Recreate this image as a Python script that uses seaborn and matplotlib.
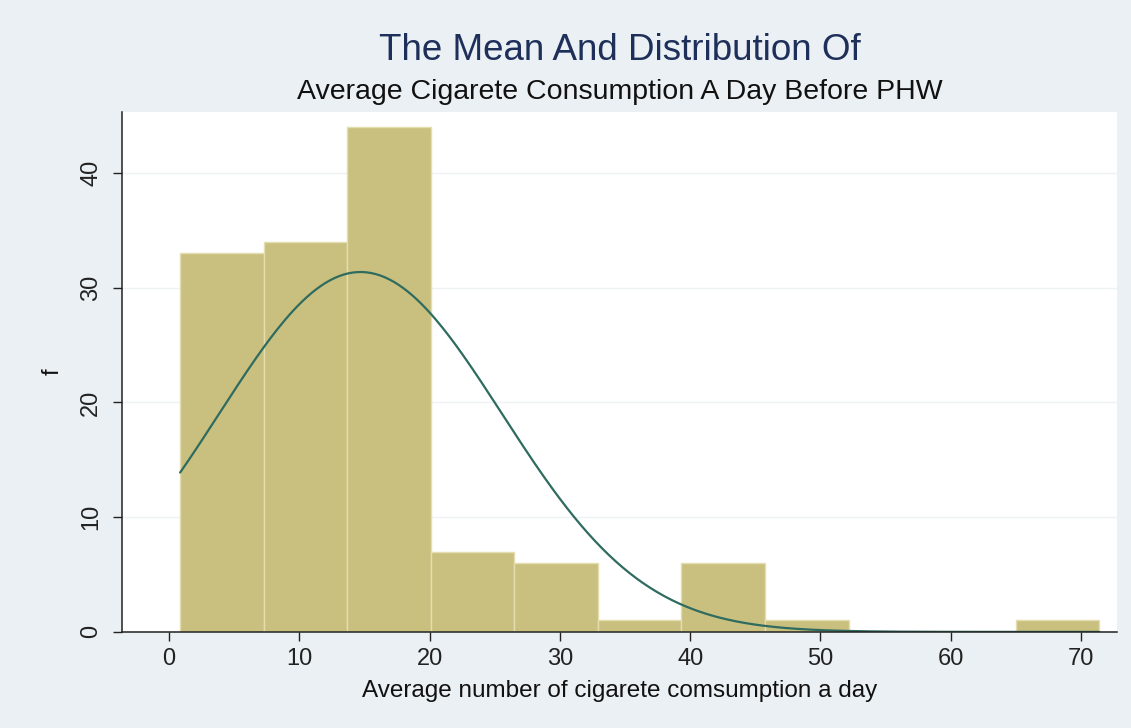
import numpy as np
import pandas as pd
import matplotlib
matplotlib.use("Agg")
import matplotlib.pyplot as plt
import seaborn as sns

# Histogram data
bin_edges = [0.85, 7.26, 13.68, 20.09, 26.51, 32.92, 39.33, 45.75, 52.16, 58.58, 64.99, 71.4]
counts = [33, 34, 44, 7, 6, 1, 6, 1, 0, 0, 1]

# Fitted normal curve (mean / sd of the data)
mean_val = 14.7
sd_val = 10.85

x_ticks = [0, 10, 20, 30, 40, 50, 60, 70]
y_ticks = [0, 10, 20, 30, 40]

bg = "#eaf0f3"
bar_color = "#c9c07f"
curve_color = "#2f6b5f"

sns.set_style("white")
plt.rcParams["font.family"] = ["Liberation Sans", "DejaVu Sans"]

fig = plt.figure(figsize=(11.31, 7.28), dpi=100, facecolor=bg)
ax = fig.add_axes([0.108, 0.132, 0.880, 0.714])
ax.set_facecolor("white")

centers = [(a + b) / 2 for a, b in zip(bin_edges[:-1], bin_edges[1:])]
df = pd.DataFrame({"x": centers, "w": counts})
sns.histplot(data=df, x="x", weights="w", bins=bin_edges, ax=ax,
             color=bar_color, alpha=1, edgecolor="#e3ddb0", linewidth=1.0)

# normal density scaled to frequency
n = sum(counts)
width = (bin_edges[-1] - bin_edges[0]) / len(counts)
xs = np.linspace(bin_edges[0], bin_edges[-1], 400)
ys = n * width / (sd_val * np.sqrt(2 * np.pi)) * np.exp(-0.5 * ((xs - mean_val) / sd_val) ** 2)
sns.lineplot(x=xs, y=ys, ax=ax, color=curve_color, linewidth=1.6)

ax.set_xlim(-3.6, 72.8)
ax.set_ylim(0, 45.3)
ax.set_xticks(x_ticks)
ax.set_yticks(y_ticks)
ax.set_yticklabels([str(v) for v in y_ticks], rotation=90, va="center")
ax.tick_params(axis="both", length=6.5, width=1, colors="#222222", labelsize=17, direction="out")
ax.tick_params(axis="x", pad=5)
ax.tick_params(axis="y", pad=8)
ax.tick_params(axis="both", which="both", bottom=True, left=True)
ax.yaxis.grid(True, color="#eef2f4", linewidth=1)
ax.set_axisbelow(True)

for s in ["top", "right"]:
    ax.spines[s].set_visible(False)
for s in ["left", "bottom"]:
    ax.spines[s].set_color("#222222")
    ax.spines[s].set_linewidth(1.1)

ax.set_xlabel("Average number of cigarete comsumption a day", fontsize=17.5, color="#111111", labelpad=7)
ax.set_ylabel("f", fontsize=17, color="#111111", labelpad=12)

fig.text(0.548, 0.917, "The Mean And Distribution Of", ha="center", va="baseline",
         fontsize=26.5, color="#1e2f5a")
fig.text(0.548, 0.864, "Average Cigarete Consumption A Day Before PHW", ha="center", va="baseline",
         fontsize=20.5, color="#111111")

fig.savefig("out.png", dpi=100, facecolor=bg)
